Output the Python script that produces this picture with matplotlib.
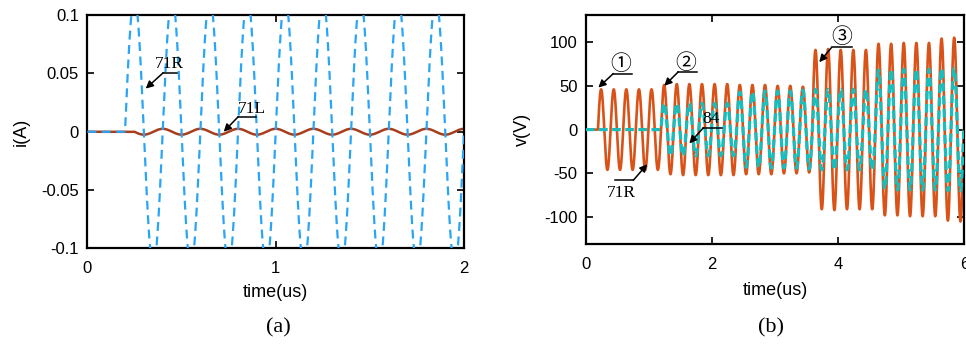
import matplotlib
matplotlib.use('Agg')
from matplotlib import pyplot as plt
import numpy as np

plt.rcParams['font.family'] = ['Liberation Sans', 'DejaVu Sans']
plt.rcParams['font.size'] = 12

SERIF = ['Liberation Serif', 'DejaVu Sans', 'Noto Sans CJK SC']
CIRCLED = ['Noto Sans CJK SC', 'DejaVu Sans']

# ---- data ----
# (a) currents, sine bursts with period 0.2 us
period = 0.2
i71R_start = 0.2
i71R_amp = [0.115, 0.115, 0.115, 0.115, 0.115, 0.115, 0.115, 0.115, 0.115]
i71L_start = 0.25
i71L_amp = [-0.0025, -0.0025, -0.0025, -0.0025, -0.0025, -0.0025, -0.0025, -0.0025, -0.0025]
i_ticks = [-0.1, -0.05, 0, 0.05, 0.1]
i_tick_labels = ['-0.1', '-0.05', '0', '0.05', '0.1']
ta_ticks = [0, 1, 2]

# (b) voltages, one amplitude per 0.2 us cycle
v_start = 0.19
v71R_amp = [46, 46, 46, 46, 46,
            51, 52, 52, 52, 52, 52, 51, 51, 51, 50, 50, 49,
            91, 92, 91, 91, 91,
            98, 98, 99, 99, 99, 104, 105]
v84_amp = [0, 0, 0, 0, 0,
           30, 30, 30, 30, 30, 30, 43, 43, 44, 44, 44, 45,
           46, 46, 46, 46, 46,
           68, 69, 69, 69, 69, 70, 70]
v_ticks = [-100, -50, 0, 50, 100]
v_tick_labels = ['-100', '-50', '0', '50', '100']
tb_ticks = [0, 2, 4, 6]


def burst(t, start, amps):
    k = np.floor((t - start) / period).astype(int)
    a = np.zeros_like(t)
    ok = (k >= 0) & (k < len(amps))
    a[ok] = np.asarray(amps)[k[ok]]
    return a * np.sin(2 * np.pi * (t - start) / period)


def callout(ax, label, tip, tail, line_end, text_xy, size=12.5, family=SERIF):
    ax.plot([tail[0], line_end], [tail[1], tail[1]], color='k', lw=1.1, zorder=5)
    ax.annotate('', xy=tip, xytext=tail, zorder=5,
                arrowprops=dict(arrowstyle='-|>', color='k', lw=1.1,
                                mutation_scale=11, shrinkA=0, shrinkB=0))
    ax.text(text_xy[0], text_xy[1], label, ha='center', va='center',
            fontsize=size, family=family, zorder=6)


def style(ax):
    for s in ax.spines.values():
        s.set_linewidth(1.6)
    ax.tick_params(direction='in', length=5, width=1.2, top=True, right=True,
                   labelsize=12)
    ax.tick_params(axis='x', pad=9)
    ax.tick_params(axis='y', pad=6)


fig = plt.figure(figsize=(9.66, 3.44), dpi=100)

# ---- (a) ----
ax1 = fig.add_axes([0.0904, 0.278, 0.390, 0.678])
ta = np.linspace(0, 2, 4001)
ax1.plot(ta, burst(ta, i71L_start, i71L_amp), color='#A83E1C', lw=1.8, zorder=2)
ax1.plot(ta, burst(ta, i71R_start, i71R_amp), color='#2AA4F4', lw=1.6,
         ls=(0, (4, 2.5)), zorder=3)
ax1.set_xlim(0, 2)
ax1.set_ylim(-0.1, 0.1)
ax1.set_xticks(ta_ticks)
ax1.set_yticks(i_ticks)
ax1.set_yticklabels(i_tick_labels)
style(ax1)
ax1.set_ylabel('i(A)', fontsize=13)
ax1.set_xlabel('time(us)', fontsize=13)
ax1.yaxis.set_label_coords(-0.152, 0.5)
ax1.xaxis.set_label_coords(0.5, -0.19)
ax1.xaxis.label.set_va('center')
callout(ax1, '71R', (0.31, 0.037), (0.403, 0.0506), 0.474, (0.437, 0.058))
callout(ax1, '71L', (0.724, 0.0), (0.801, 0.0129), 0.898, (0.872, 0.0195))

# ---- (b) ----
ax2 = fig.add_axes([0.6066, 0.290, 0.3916, 0.6666])
tb = np.linspace(0, 6, 12001)
ax2.plot(tb, burst(tb, v_start, v71R_amp), color='#D95319', lw=1.9, zorder=2)
ax2.plot(tb, burst(tb, v_start, v84_amp), color='#17BEBE', lw=2.3,
         ls=(0, (2.7, 1.4)), zorder=3)
ax2.set_xlim(0, 6)
ax2.set_ylim(-131, 131)
ax2.set_xticks(tb_ticks)
ax2.set_yticks(v_ticks)
ax2.set_yticklabels(v_tick_labels)
style(ax2)
ax2.set_ylabel('v(V)', fontsize=13)
ax2.set_xlabel('time(us)', fontsize=13)
ax2.yaxis.set_label_coords(-0.146, 0.5)
ax2.xaxis.set_label_coords(0.5, -0.203)
ax2.xaxis.label.set_va('center')
callout(ax2, '\u2460', (0.196, 48), (0.433, 64), 0.725, (0.553, 75), size=15, family=CIRCLED)
callout(ax2, '\u2461', (1.242, 50), (1.464, 66), 1.756, (1.586, 76), size=15, family=CIRCLED)
callout(ax2, '\u2462', (3.70, 77), (3.897, 94), 4.214, (4.055, 106), size=15, family=CIRCLED)
callout(ax2, '71R', (0.972, -39.5), (0.75, -58), 0.46, (0.566, -72))
callout(ax2, '84', (1.639, -15.8), (1.861, 2), 2.162, (1.983, 12.5))

fig.text(278 / 966, 1 - 328 / 344, '(a)', ha='center', va='center',
         fontsize=16, family=SERIF)
fig.text(771 / 966, 1 - 328 / 344, '(b)', ha='center', va='center',
         fontsize=16, family=SERIF)

fig.savefig('out.png', dpi=100)
